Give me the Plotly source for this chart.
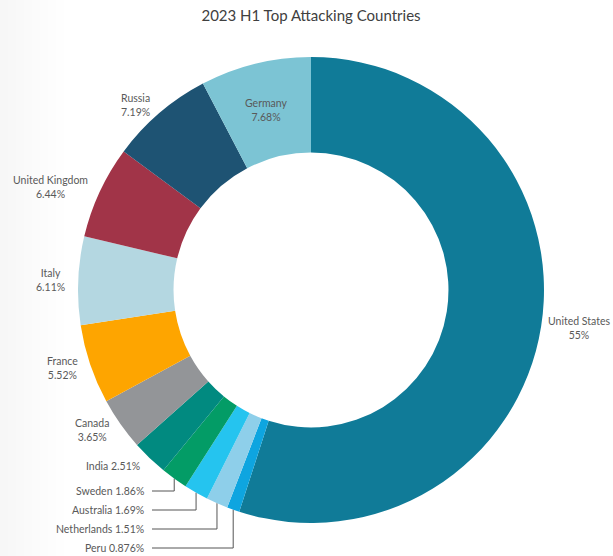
import math
import plotly.graph_objects as go

# Share of attack traffic by source country, 2023 H1
countries = ["United States", "Peru", "Netherlands", "Australia", "Sweden", "India",
             "Canada", "France", "Italy", "United Kingdom", "Russia", "Germany"]
shares = [55, 0.876, 1.51, 1.69, 1.86, 2.51, 3.65, 5.52, 6.11, 6.44, 7.19, 7.68]
colors = ["#107b98", "#0ea5e0", "#8ecfea", "#25c4ef", "#039c66", "#018a80",
          "#939598", "#fea500", "#b4d7e1", "#a13448", "#1e5373", "#7cc4d4"]

# thin slices are labelled in a stack at the lower left with leader lines
stacked = ["Sweden", "Australia", "Netherlands", "Peru"]
single_line = ["India"]
inside = ["Germany"]

W, H = 613, 556
CX, CY, R = 311, 290, 233          # donut centre and outer radius, in page pixels
HOLE = 0.59
GAP = 11                           # distance of outside labels from the rim

font_family = "Source Sans Pro, Lato, sans-serif"
text_color = "#595959"
label_size = 10.5
char_w = 0.52 * label_size         # rough average glyph width, for edge fitting

fig = go.Figure()

fig.add_trace(go.Pie(
    labels=countries,
    values=shares,
    hole=HOLE,
    sort=False,
    direction="clockwise",
    rotation=0,
    automargin=False,
    domain=dict(x=[(CX - 300) / W, (CX + 300) / W],
                y=[(H - CY - R) / H, (H - CY + R) / H]),
    marker=dict(colors=colors, line=dict(width=0)),
    textinfo="none",
    hoverinfo="label+value",
    showlegend=False,
))

# mid-angle of every slice (clockwise from 12 o'clock)
total = sum(shares)
mid_angle = {}
acc = 0.0
for c, v in zip(countries, shares):
    mid_angle[c] = 2 * math.pi * (acc + v / 2) / total
    acc += v


def polar(c, r):
    t = mid_angle[c]
    return CX + r * math.sin(t), CY - r * math.cos(t)


def label_font():
    return dict(family=font_family, size=label_size, color=text_color)


for c, v in zip(countries, shares):
    if c in stacked:
        continue
    if c in inside:
        x, y = polar(c, R * (1 + HOLE) / 2)
        fig.add_annotation(x=x, y=y, xref="x", yref="y", text=f"{c}<br>{v}%",
                           showarrow=False, xanchor="center", yanchor="middle",
                           font=label_font())
        continue
    x, y = polar(c, R + GAP)
    text = f"{c} {v}%" if c in single_line else f"{c}<br>{v}%"
    if x > CX:
        anchor = "left"
        longest = max(len(s) for s in text.split("<br>"))
        if x + longest * char_w > W - 1:      # keep the label on the page
            x, anchor = W - 1, "right"
    else:
        anchor = "right"
    fig.add_annotation(x=x, y=y, xref="x", yref="y", text=text,
                       showarrow=False, xanchor=anchor, yanchor="middle",
                       font=label_font())

# stacked labels with elbow leader lines back to the rim
label_right = 146
line_start = 152
first_y, step = 491, 19

line_x, line_y = [], []
for i, c in enumerate(stacked):
    ly = first_y + i * step
    px, py = polar(c, R)
    line_x += [line_start, px, px, None]
    line_y += [ly, ly, py, None]
    v = shares[countries.index(c)]
    fig.add_annotation(x=label_right, y=ly, xref="x", yref="y", text=f"{c} {v}%",
                       showarrow=False, xanchor="right", yanchor="middle",
                       font=label_font())

fig.add_trace(go.Scatter(
    x=line_x, y=line_y, mode="lines",
    line=dict(color="#555555", width=1),
    hoverinfo="skip", showlegend=False,
))

# very soft cool tint fading in from the left edge of the page
for i in range(8):
    fig.add_shape(type="rect", xref="paper", yref="paper",
                  x0=0, x1=(i + 1) * 8 / W, y0=0, y1=1,
                  fillcolor="#e4eaf0", opacity=0.035,
                  line=dict(width=0), layer="below")

fig.update_layout(
    width=W,
    height=H,
    margin=dict(l=0, r=0, t=0, b=0),
    paper_bgcolor="white",
    plot_bgcolor="rgba(0,0,0,0)",
    font=dict(family=font_family, color=text_color),
    xaxis=dict(range=[0, W], domain=[0, 1], visible=False, fixedrange=True),
    yaxis=dict(range=[H, 0], domain=[0, 1], visible=False, fixedrange=True),
    title=dict(
        text="2023 H1 Top Attacking Countries",
        x=311 / W, xanchor="center",
        y=1 - 16 / H, yanchor="middle",
        font=dict(family=font_family, size=15, color="#404040"),
    ),
)

fig.write_html("out.html")
